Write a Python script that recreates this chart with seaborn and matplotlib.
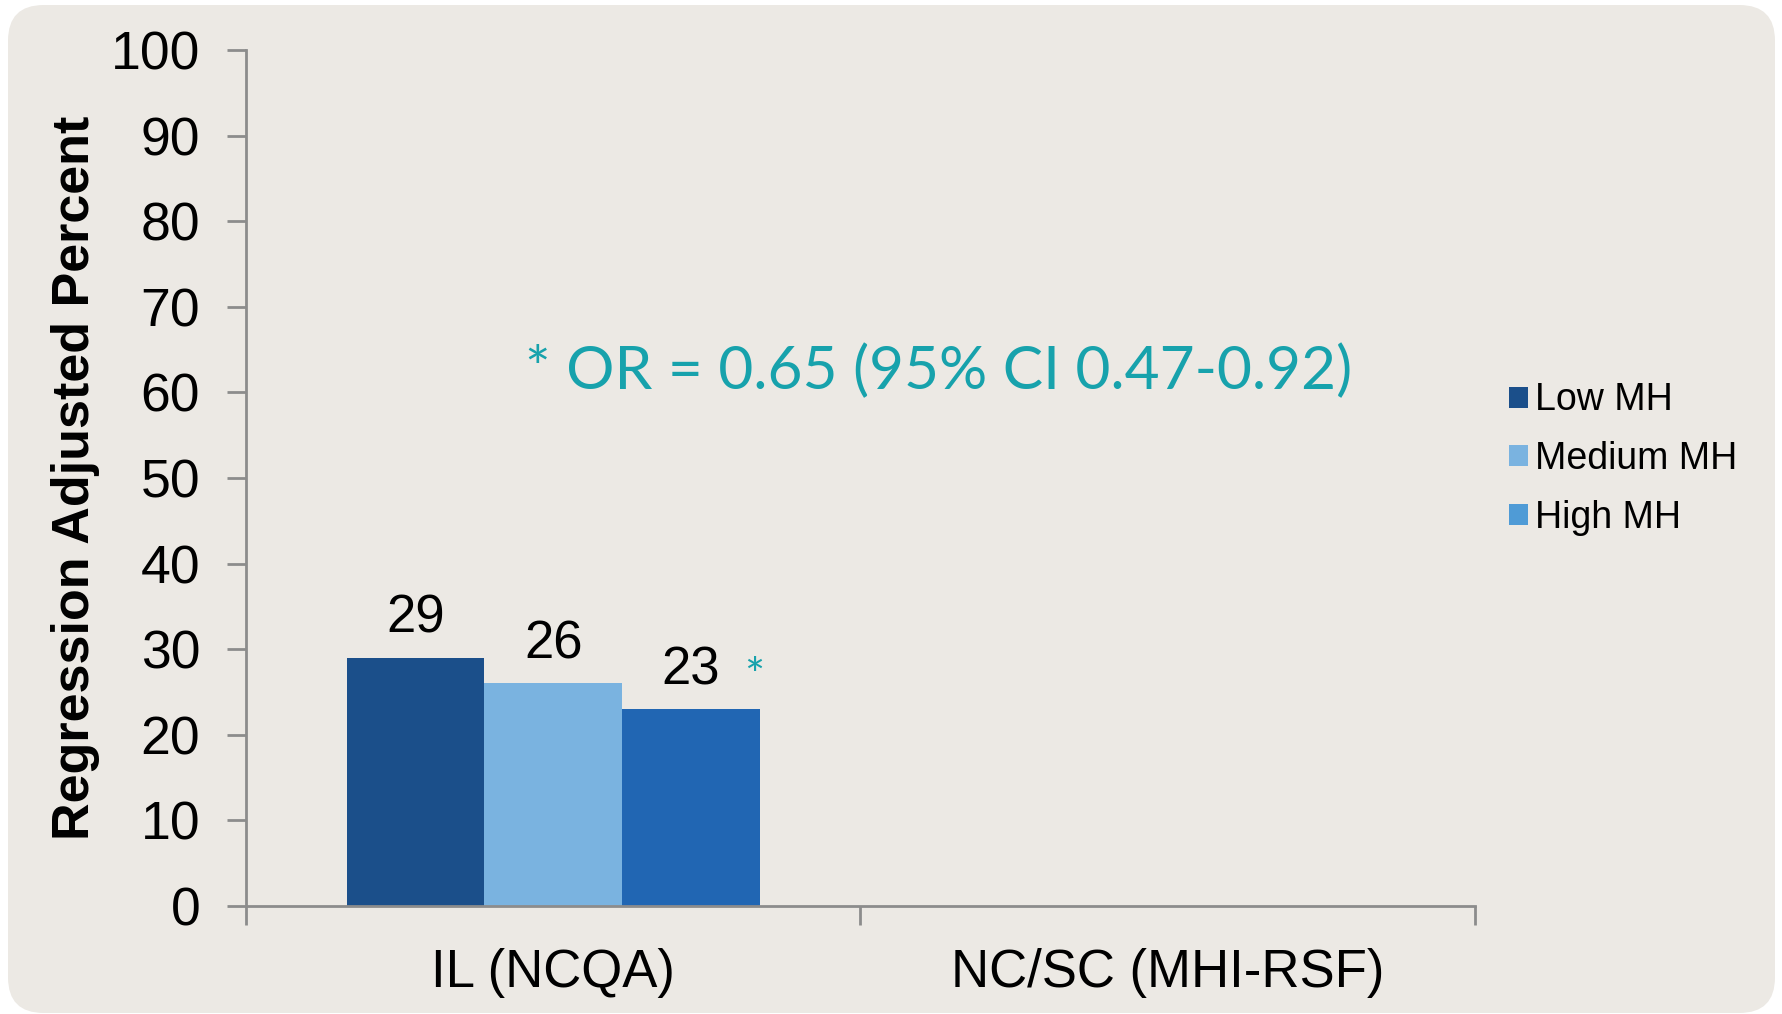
import numpy as np
import pandas as pd
import matplotlib
matplotlib.use("Agg")
import matplotlib.pyplot as plt
from matplotlib.patches import FancyBboxPatch, Patch
import seaborn as sns

# Data
sites = ["IL (NCQA)", "NC/SC (MHI-RSF)"]
groups = ["Low MH", "Medium MH", "High MH"]
il_values = [29, 26, 23]
ncsc_values = [np.nan, np.nan, np.nan]
bar_colors = ["#1B4F8A", "#7AB3E0", "#2166B3"]
legend_colors = ["#1B4F8A", "#7AB3E0", "#4F9BD6"]
note_text = "* OR = 0.65 (95% CI 0.47-0.92)"
y_ticks = list(range(0, 101, 10))

df = pd.DataFrame({
    "site": [sites[0]] * 3 + [sites[1]] * 3,
    "group": groups * 2,
    "value": il_values + ncsc_values,
})

sns.set_theme(style="white")
plt.rcParams["font.family"] = ["Liberation Sans", "DejaVu Sans"]
plt.rcParams["text.color"] = "black"
plt.rcParams["axes.labelcolor"] = "black"
plt.rcParams["xtick.color"] = "black"
plt.rcParams["ytick.color"] = "black"

teal = "#17A2AC"
axis_grey = "#8C8C8C"

fig = plt.figure(figsize=(17.83, 10.14), dpi=100, facecolor="white")

# rounded panel behind the chart
panel = FancyBboxPatch((8 / 1783, 1 / 1014), 1767 / 1783, 1008 / 1014,
                       boxstyle="round,pad=0,rounding_size=0.02",
                       transform=fig.transFigure, facecolor="#ECE9E4",
                       edgecolor="none", zorder=-10, mutation_aspect=1783 / 1014)
fig.patches.append(panel)

ax = fig.add_axes([246 / 1783, 108 / 1014, (1475 - 246) / 1783, (964 - 108) / 1014])
ax.set_facecolor("none")

sns.barplot(data=df, x="site", y="value", hue="group", order=sites,
            hue_order=groups, palette=bar_colors, width=0.672, gap=0,
            saturation=1, errorbar=None, ax=ax, legend=False, linewidth=0)

ax.set_xlim(-0.5, 1.5)
ax.set_ylim(0, 100)
ax.set_yticks(y_ticks)
ax.set_yticklabels([str(t) for t in y_ticks], fontsize=38.5)

# category labels without ticks; boundary ticks drawn as minor ticks
ax.set_xticks([0, 1])
ax.set_xticklabels(sites, fontsize=38)
ax.tick_params(axis="x", which="major", length=0, pad=30)
ax.set_xticks([-0.5, 0.5, 1.5], minor=True)
ax.tick_params(axis="x", which="minor", length=14, width=2, color=axis_grey,
               direction="out", bottom=True)
ax.tick_params(axis="y", length=14, width=2, color=axis_grey, direction="out",
               left=True, pad=19, labelcolor="black")

for side in ["top", "right"]:
    ax.spines[side].set_visible(False)
for side in ["left", "bottom"]:
    ax.spines[side].set_color(axis_grey)
    ax.spines[side].set_linewidth(2)

ax.set_xlabel("")
ax.set_ylabel("Regression Adjusted Percent", fontsize=37.5, fontweight="bold",
              labelpad=8)

# value labels on the bars
for cont in ax.containers:
    labels = ["" if np.isnan(v) else f"{v:.0f}" for v in cont.datavalues]
    ax.bar_label(cont, labels=labels, fontsize=38, padding=10, color="black")

# significance marker next to the High MH bar
high_bar = ax.containers[2][0]
ax.annotate("*", (high_bar.get_x() + high_bar.get_width(), il_values[2]),
            xytext=(-4, 7), textcoords="offset points", ha="center", va="bottom",
            fontsize=34, color=teal, family=["Lato", "DejaVu Sans"])

ax.text(0.627, 62.4, note_text, ha="center", va="center", fontsize=43.5,
        color=teal, family=["Lato", "DejaVu Sans"])

handles = [Patch(facecolor=c, edgecolor="none", label=g)
           for c, g in zip(legend_colors, groups)]
fig.legend(handles=handles, loc="center left",
           bbox_to_anchor=(1509 / 1783, 1 - 459 / 1014),
           frameon=False, fontsize=27, handlelength=0.5, handleheight=0.5,
           handletextpad=0.2, labelspacing=0.6, borderaxespad=0, borderpad=0)

fig.savefig("out.png", dpi=100, facecolor="white")
